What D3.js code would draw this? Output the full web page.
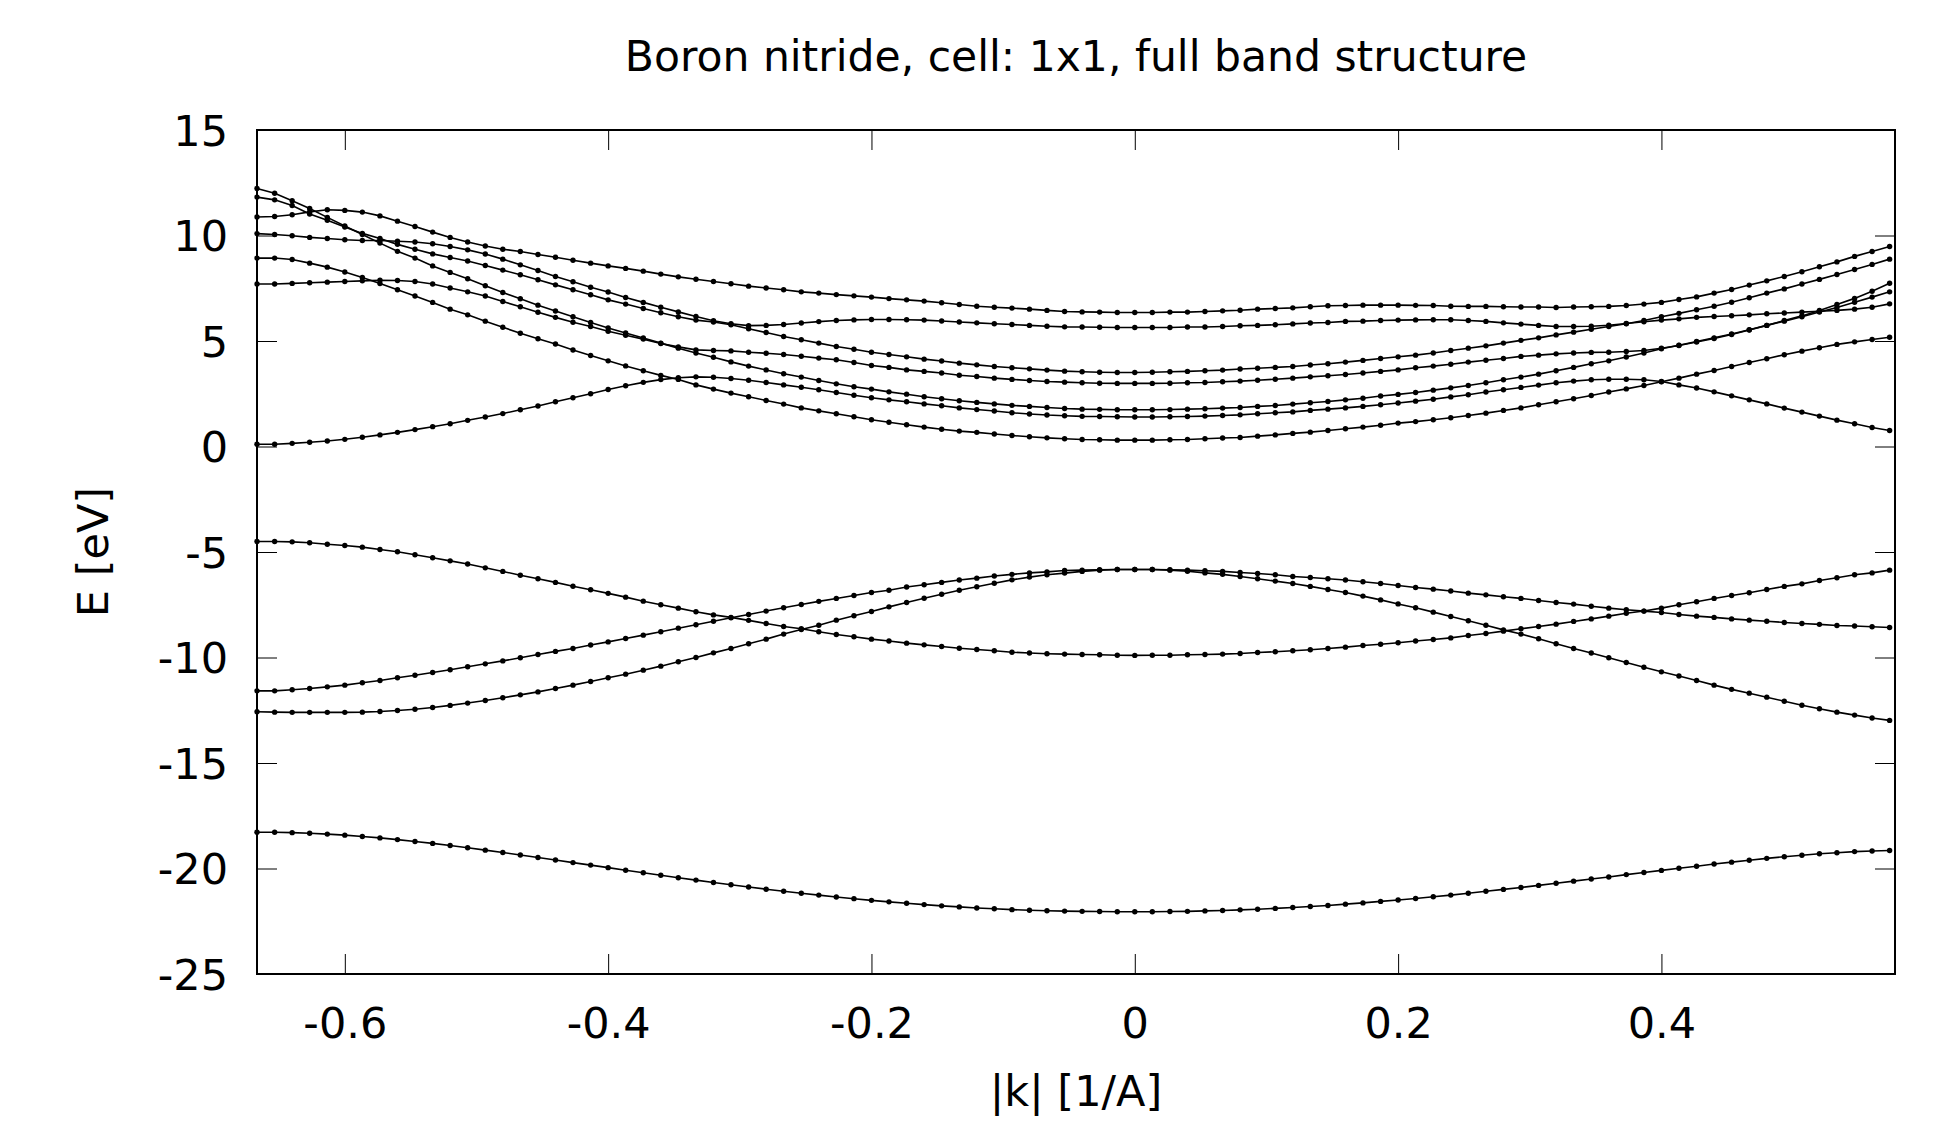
<!DOCTYPE html>
<html>
<head>
<meta charset="utf-8">
<style>
	body { margin: 0; background: white; }
	svg text { font-family: "DejaVu Sans", sans-serif; font-size: 43px; fill: black; }
	.band { fill: none; stroke: black; stroke-width: 1.6; }
	.pt { fill: black; }
	.border { fill: none; stroke: black; stroke-width: 2; }
</style>
</head>
<body>
<svg width="1935" height="1124"></svg>

<script src="https://cdn.jsdelivr.net/npm/d3@7"></script>
<script>
const width = 1935;
const height = 1124;
const plotLeft = 257, plotRight = 1895, plotTop = 130, plotBottom = 974;

const title = "Boron nitride, cell: 1x1, full band structure";
const xLabel = "|k| [1/A]";
const yLabel = "E [eV]";
const xTicks = [-0.6, -0.4, -0.2, 0, 0.2, 0.4];
const yTicks = [15, 10, 5, 0, -5, -10, -15, -20, -25];

// |k| along the path K - Gamma - M
const kPath = [
	-0.6667, -0.6533, -0.6400, -0.6267, -0.6133, -0.6000, -0.5867, -0.5733, -0.5600, -0.5467,
	-0.5333, -0.5200, -0.5067, -0.4933, -0.4800, -0.4667, -0.4533, -0.4400, -0.4267, -0.4133,
	-0.4000, -0.3867, -0.3733, -0.3600, -0.3467, -0.3333, -0.3200, -0.3067, -0.2933, -0.2800,
	-0.2667, -0.2533, -0.2400, -0.2267, -0.2133, -0.2000, -0.1867, -0.1733, -0.1600, -0.1467,
	-0.1333, -0.1200, -0.1067, -0.0933, -0.0800, -0.0667, -0.0533, -0.0400, -0.0267, -0.0133,
	0.0000, 0.0133, 0.0267, 0.0400, 0.0533, 0.0667, 0.0800, 0.0933, 0.1067, 0.1200,
	0.1333, 0.1467, 0.1600, 0.1733, 0.1867, 0.2000, 0.2133, 0.2267, 0.2400, 0.2533,
	0.2667, 0.2800, 0.2933, 0.3067, 0.3200, 0.3333, 0.3467, 0.3600, 0.3733, 0.3867,
	0.4000, 0.4133, 0.4267, 0.4400, 0.4533, 0.4667, 0.4800, 0.4933, 0.5067, 0.5200,
	0.5333, 0.5467, 0.5600, 0.5733
];

// energies in eV, one value per k point
const band1 = [
	-18.28, -18.28, -18.30, -18.33, -18.37, -18.42, -18.48, -18.55, -18.63, -18.72,
	-18.81, -18.91, -19.02, -19.13, -19.24, -19.36, -19.48, -19.60, -19.72, -19.84,
	-19.96, -20.08, -20.20, -20.32, -20.44, -20.55, -20.66, -20.77, -20.88, -20.98,
	-21.08, -21.17, -21.26, -21.35, -21.43, -21.51, -21.58, -21.65, -21.71, -21.77,
	-21.82, -21.87, -21.91, -21.95, -21.98, -22.00, -22.02, -22.03, -22.04, -22.05,
	-22.05, -22.05, -22.04, -22.03, -22.01, -21.99, -21.96, -21.93, -21.89, -21.85,
	-21.80, -21.75, -21.69, -21.63, -21.56, -21.49, -21.42, -21.34, -21.26, -21.17,
	-21.08, -20.99, -20.90, -20.80, -20.70, -20.60, -20.50, -20.40, -20.29, -20.19,
	-20.09, -19.99, -19.89, -19.79, -19.70, -19.61, -19.52, -19.44, -19.37, -19.30,
	-19.25, -19.20, -19.17, -19.15
];
const band2 = [
	-12.57, -12.59, -12.60, -12.60, -12.60, -12.60, -12.59, -12.56, -12.51, -12.45,
	-12.37, -12.27, -12.16, -12.04, -11.91, -11.77, -11.63, -11.47, -11.31, -11.14,
	-10.96, -10.79, -10.60, -10.41, -10.20, -10.00, -9.78, -9.57, -9.35, -9.13,
	-8.89, -8.67, -8.47, -8.23, -8.02, -7.82, -7.60, -7.39, -7.19, -7.00,
	-6.81, -6.65, -6.48, -6.32, -6.19, -6.08, -6.00, -5.92, -5.86, -5.83,
	-5.83, -5.83, -5.86, -5.91, -5.99, -6.06, -6.16, -6.27, -6.38, -6.49,
	-6.63, -6.78, -6.92, -7.09, -7.27, -7.46, -7.64, -7.85, -8.06, -8.26,
	-8.47, -8.69, -8.89, -9.11, -9.35, -9.57, -9.79, -10.01, -10.24, -10.46,
	-10.68, -10.88, -11.09, -11.31, -11.51, -11.69, -11.88, -12.07, -12.26, -12.43,
	-12.59, -12.73, -12.87, -12.98
];
const band3 = [
	-11.58, -11.58, -11.53, -11.47, -11.39, -11.31, -11.20, -11.09, -10.96, -10.84,
	-10.71, -10.58, -10.44, -10.30, -10.16, -10.01, -9.86, -9.71, -9.57, -9.41,
	-9.26, -9.10, -8.94, -8.78, -8.61, -8.45, -8.28, -8.12, -7.96, -7.80,
	-7.64, -7.49, -7.34, -7.20, -7.06, -6.92, -6.81, -6.66, -6.55, -6.44,
	-6.33, -6.24, -6.14, -6.06, -5.99, -5.94, -5.88, -5.86, -5.84, -5.83,
	-5.83, -5.83, -5.84, -5.86, -5.89, -5.92, -5.97, -6.02, -6.08, -6.16,
	-6.21, -6.27, -6.33, -6.41, -6.49, -6.59, -6.68, -6.76, -6.85, -6.95,
	-7.03, -7.12, -7.20, -7.30, -7.39, -7.47, -7.57, -7.66, -7.74, -7.80,
	-7.87, -7.96, -8.04, -8.10, -8.17, -8.23, -8.28, -8.34, -8.39, -8.43,
	-8.48, -8.51, -8.54, -8.58
];
const band4 = [
	-4.50, -4.50, -4.52, -4.56, -4.63, -4.69, -4.77, -4.88, -4.99, -5.13,
	-5.27, -5.42, -5.57, -5.75, -5.92, -6.10, -6.27, -6.44, -6.62, -6.79,
	-6.96, -7.14, -7.33, -7.50, -7.66, -7.83, -7.98, -8.10, -8.24, -8.39,
	-8.53, -8.64, -8.78, -8.91, -9.02, -9.13, -9.22, -9.32, -9.40, -9.48,
	-9.56, -9.62, -9.68, -9.75, -9.79, -9.82, -9.84, -9.86, -9.87, -9.89,
	-9.90, -9.89, -9.89, -9.87, -9.86, -9.84, -9.81, -9.76, -9.73, -9.68,
	-9.63, -9.57, -9.51, -9.43, -9.37, -9.30, -9.22, -9.15, -9.07, -8.96,
	-8.86, -8.75, -8.64, -8.53, -8.42, -8.29, -8.17, -8.04, -7.90, -7.80,
	-7.66, -7.50, -7.36, -7.20, -7.06, -6.93, -6.78, -6.63, -6.51, -6.35,
	-6.22, -6.08, -5.99, -5.86
];
const band5 = [
	0.11, 0.11, 0.15, 0.20, 0.26, 0.34, 0.44, 0.55, 0.67, 0.80,
	0.94, 1.08, 1.24, 1.40, 1.56, 1.74, 1.92, 2.12, 2.31, 2.50,
	2.70, 2.88, 3.04, 3.17, 3.26, 3.30, 3.28, 3.22, 3.14, 3.03,
	2.92, 2.81, 2.69, 2.56, 2.43, 2.31, 2.21, 2.12, 2.02, 1.93,
	1.83, 1.75, 1.68, 1.60, 1.54, 1.49, 1.46, 1.43, 1.42, 1.41,
	1.40, 1.40, 1.41, 1.42, 1.44, 1.47, 1.50, 1.55, 1.60, 1.64,
	1.71, 1.77, 1.83, 1.90, 1.98, 2.06, 2.15, 2.24, 2.35, 2.45,
	2.58, 2.69, 2.80, 2.91, 3.02, 3.10, 3.16, 3.19, 3.19, 3.16,
	3.08, 2.92, 2.77, 2.59, 2.40, 2.21, 2.02, 1.82, 1.63, 1.44,
	1.25, 1.08, 0.90, 0.76
];
const band6 = [
	8.93, 8.93, 8.86, 8.69, 8.50, 8.27, 8.01, 7.72, 7.43, 7.13,
	6.83, 6.51, 6.24, 5.94, 5.65, 5.37, 5.11, 4.86, 4.57, 4.31,
	4.06, 3.82, 3.59, 3.37, 3.18, 2.92, 2.72, 2.53, 2.36, 2.18,
	2.01, 1.83, 1.69, 1.55, 1.41, 1.27, 1.15, 1.03, 0.92, 0.82,
	0.73, 0.67, 0.59, 0.52, 0.46, 0.41, 0.37, 0.33, 0.32, 0.30,
	0.30, 0.30, 0.32, 0.33, 0.37, 0.40, 0.43, 0.49, 0.55, 0.62,
	0.68, 0.76, 0.84, 0.92, 1.01, 1.11, 1.18, 1.27, 1.36, 1.47,
	1.58, 1.71, 1.83, 1.98, 2.12, 2.26, 2.42, 2.58, 2.73, 2.89,
	3.07, 3.24, 3.43, 3.60, 3.79, 3.98, 4.16, 4.35, 4.52, 4.68,
	4.84, 4.96, 5.07, 5.18
];
const band7 = [
	7.70, 7.70, 7.73, 7.76, 7.79, 7.82, 7.85, 7.88, 7.87, 7.82,
	7.70, 7.51, 7.33, 7.13, 6.87, 6.62, 6.36, 6.12, 5.89, 5.69,
	5.46, 5.27, 5.09, 4.88, 4.72, 4.58, 4.55, 4.53, 4.47, 4.42,
	4.36, 4.28, 4.19, 4.11, 3.98, 3.84, 3.75, 3.63, 3.56, 3.48,
	3.38, 3.32, 3.24, 3.18, 3.13, 3.08, 3.05, 3.02, 3.00, 2.99,
	2.99, 2.99, 3.00, 3.02, 3.03, 3.07, 3.10, 3.14, 3.19, 3.24,
	3.30, 3.35, 3.41, 3.48, 3.56, 3.63, 3.73, 3.81, 3.90, 4.00,
	4.09, 4.17, 4.27, 4.33, 4.39, 4.43, 4.46, 4.47, 4.50, 4.55,
	4.66, 4.79, 4.95, 5.12, 5.31, 5.52, 5.74, 5.97, 6.19, 6.45,
	6.73, 7.02, 7.36, 7.74
];
const band8 = [
	12.23, 12.00, 11.65, 11.28, 10.86, 10.45, 10.05, 9.64, 9.25, 8.93,
	8.56, 8.25, 7.95, 7.62, 7.30, 7.00, 6.70, 6.42, 6.15, 5.88,
	5.62, 5.38, 5.14, 4.90, 4.66, 4.43, 4.23, 4.01, 3.81, 3.63,
	3.45, 3.29, 3.13, 2.97, 2.83, 2.72, 2.59, 2.48, 2.36, 2.26,
	2.17, 2.09, 2.02, 1.95, 1.90, 1.85, 1.80, 1.77, 1.76, 1.74,
	1.74, 1.74, 1.75, 1.77, 1.79, 1.82, 1.85, 1.90, 1.94, 2.01,
	2.07, 2.13, 2.21, 2.29, 2.39, 2.47, 2.56, 2.67, 2.78, 2.89,
	3.02, 3.16, 3.29, 3.43, 3.59, 3.75, 3.92, 4.06, 4.24, 4.43,
	4.63, 4.80, 4.98, 5.15, 5.33, 5.53, 5.74, 5.94, 6.15, 6.37,
	6.59, 6.84, 7.08, 7.33
];
const band9 = [
	11.82, 11.69, 11.42, 11.02, 10.72, 10.40, 10.10, 9.86, 9.58, 9.35,
	9.13, 8.96, 8.79, 8.58, 8.36, 8.14, 7.90, 7.66, 7.43, 7.19,
	6.95, 6.75, 6.54, 6.34, 6.15, 5.99, 5.90, 5.77, 5.58, 5.40,
	5.21, 5.06, 4.90, 4.74, 4.61, 4.47, 4.36, 4.25, 4.14, 4.05,
	3.95, 3.87, 3.79, 3.73, 3.68, 3.62, 3.57, 3.54, 3.52, 3.51,
	3.51, 3.52, 3.54, 3.56, 3.59, 3.62, 3.67, 3.71, 3.75, 3.79,
	3.86, 3.92, 4.00, 4.08, 4.17, 4.25, 4.33, 4.43, 4.55, 4.66,
	4.77, 4.90, 5.03, 5.15, 5.29, 5.42, 5.56, 5.69, 5.82, 5.97,
	6.15, 6.31, 6.48, 6.65, 6.84, 7.05, 7.27, 7.47, 7.70, 7.92,
	8.15, 8.39, 8.63, 8.88
];
const band10 = [
	10.09, 10.05, 9.99, 9.91, 9.86, 9.80, 9.76, 9.76, 9.73, 9.69,
	9.61, 9.48, 9.32, 9.12, 8.88, 8.61, 8.34, 8.06, 7.81, 7.55,
	7.32, 7.06, 6.83, 6.60, 6.38, 6.16, 5.96, 5.82, 5.73, 5.74,
	5.78, 5.85, 5.92, 5.97, 6.00, 6.02, 6.02, 6.01, 5.99, 5.95,
	5.90, 5.86, 5.82, 5.78, 5.74, 5.70, 5.67, 5.66, 5.65, 5.64,
	5.64, 5.64, 5.64, 5.66, 5.66, 5.69, 5.72, 5.74, 5.77, 5.81,
	5.85, 5.88, 5.93, 5.94, 5.97, 5.99, 6.00, 6.01, 6.01, 5.97,
	5.93, 5.86, 5.80, 5.74, 5.69, 5.69, 5.70, 5.75, 5.83, 5.91,
	5.99, 6.05, 6.12, 6.16, 6.20, 6.24, 6.29, 6.33, 6.37, 6.41,
	6.45, 6.51, 6.60, 6.76
];
const band11 = [
	10.88, 10.90, 10.98, 11.12, 11.22, 11.19, 11.11, 10.93, 10.68, 10.43,
	10.16, 9.91, 9.69, 9.50, 9.35, 9.24, 9.10, 8.97, 8.83, 8.69,
	8.56, 8.44, 8.31, 8.17, 8.04, 7.93, 7.82, 7.71, 7.60, 7.51,
	7.43, 7.33, 7.27, 7.20, 7.14, 7.08, 7.01, 6.95, 6.89, 6.81,
	6.73, 6.65, 6.60, 6.56, 6.51, 6.45, 6.40, 6.38, 6.37, 6.35,
	6.35, 6.35, 6.37, 6.37, 6.40, 6.43, 6.46, 6.51, 6.54, 6.57,
	6.62, 6.67, 6.68, 6.70, 6.70, 6.70, 6.69, 6.68, 6.65, 6.64,
	6.64, 6.62, 6.61, 6.61, 6.59, 6.61, 6.62, 6.64, 6.68, 6.75,
	6.83, 6.97, 7.09, 7.27, 7.44, 7.65, 7.85, 8.06, 8.28, 8.52,
	8.75, 9.01, 9.24, 9.48
];

const bands = [band1, band2, band3, band4, band5, band6, band7, band8, band9, band10, band11];

var svg = d3.select("svg");

svg.append("rect")
	.attr("width", width)
	.attr("height", height)
	.attr("fill", "white");

var x = d3.scaleLinear()
	.domain([-0.6667, 0.5774])
	.range([plotLeft, plotRight]);

var y = d3.scaleLinear()
	.domain([-25, 15])
	.range([plotBottom, plotTop]);

// ticks point inwards on all four sides, labels only bottom and left
var gx = svg.append("g")
	.attr("transform", "translate(0," + plotBottom + ")")
	.call(d3.axisBottom(x).tickValues(xTicks).tickSize(-20).tickFormat(String));
gx.selectAll("text").attr("y", 64).attr("dy", null);

svg.append("g")
	.attr("transform", "translate(0," + plotTop + ")")
	.call(d3.axisTop(x).tickValues(xTicks).tickSize(-20).tickFormat(""));

var gy = svg.append("g")
	.attr("transform", "translate(" + plotLeft + ",0)")
	.call(d3.axisLeft(y).tickValues(yTicks).tickSize(-20).tickFormat(String));
gy.selectAll("text").attr("x", -29).attr("dy", "0.36em");

svg.append("g")
	.attr("transform", "translate(" + plotRight + ",0)")
	.call(d3.axisRight(y).tickValues(yTicks).tickSize(-20).tickFormat(""));

svg.selectAll(".domain").remove();

var line = d3.line()
	.x(function(d, i) { return x(kPath[i]); })
	.y(function(d) { return y(d); });

svg.selectAll(".band")
	.data(bands)
	.enter()
	.append("path")
		.attr("class", "band")
		.attr("d", line);

bands.forEach(function(b) {
	svg.append("g")
		.selectAll("circle")
		.data(b)
		.enter()
		.append("circle")
			.attr("class", "pt")
			.attr("cx", function(d, i) { return x(kPath[i]); })
			.attr("cy", function(d) { return y(d); })
			.attr("r", 2.7);
});

svg.append("rect")
	.attr("class", "border")
	.attr("x", plotLeft)
	.attr("y", plotTop)
	.attr("width", plotRight - plotLeft)
	.attr("height", plotBottom - plotTop);

svg.append("text")
	.attr("x", (plotLeft + plotRight) / 2)
	.attr("y", 71)
	.attr("text-anchor", "middle")
	.attr("font-size", "42.5px")
	.style("font-size", "42.5px")
	.text(title);

svg.append("text")
	.attr("x", (plotLeft + plotRight) / 2)
	.attr("y", 1106)
	.attr("text-anchor", "middle")
	.text(xLabel);

svg.append("text")
	.attr("transform", "translate(108," + (plotTop + plotBottom) / 2 + ") rotate(-90)")
	.attr("text-anchor", "middle")
	.text(yLabel);
</script>
</body>
</html>
